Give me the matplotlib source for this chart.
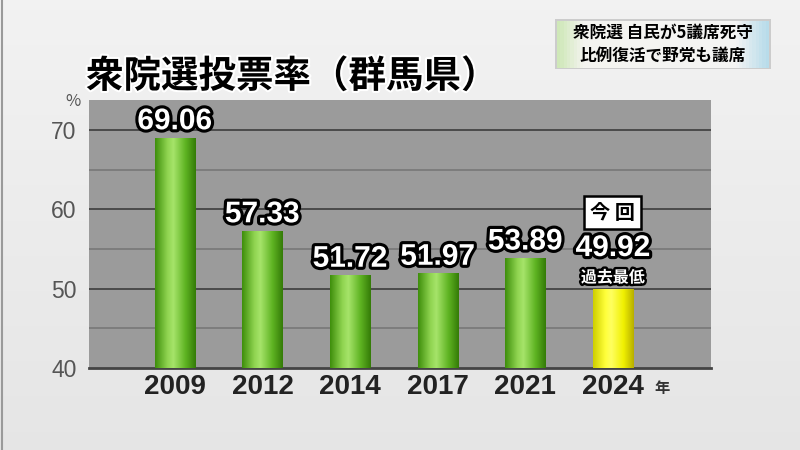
import numpy as np
import matplotlib
matplotlib.use('Agg')
import matplotlib.pyplot as plt
import matplotlib.patheffects as pe
from matplotlib.patches import Rectangle

plt.rcParams['font.family'] = ['Noto Sans CJK JP', 'DejaVu Sans']
num_font = ['Liberation Sans', 'Noto Sans CJK JP']

# Data
years = ['2009', '2012', '2014', '2017', '2021', '2024']
turnout = [69.06, 57.33, 51.72, 51.97, 53.89, 49.92]
value_labels = ['69.06', '57.33', '51.72', '51.97', '53.89', '49.92']
yticks = [40, 50, 60, 70]

title = '衆院選投票率（群馬県）'
caption = ['衆院選 自民が5議席死守', '比例復活で野党も議席']
latest_tag = '今 回'
latest_note = '過去最低'

fig = plt.figure(figsize=(8, 4.5), dpi=100)

# Background
bg = fig.add_axes([0, 0, 1, 1], zorder=-2)
grad = np.linspace(0.95, 0.90, 256).reshape(-1, 1)
bg.imshow(np.dstack([grad, grad, grad]), aspect='auto', extent=[0, 800, 450, 0])
bg.set_xlim(0, 800)
bg.set_ylim(450, 0)
bg.axis('off')
bg.plot([2, 2], [0, 450], color='#9a9a9a', lw=1.5)

# Main plot
ax = fig.add_axes([89 / 800, 1 - 368 / 450, 622 / 800, 268 / 450])
ax.set_facecolor('#9b9b9b')
x = np.arange(len(years))
bars = ax.bar(x, turnout, width=0.46, bottom=0, zorder=3)

def cylinder(colors_lr):
    pos = np.linspace(0, 1, 64)
    stops = np.array([c[0] for c in colors_lr])
    rgb = np.array([matplotlib.colors.to_rgb(c[1]) for c in colors_lr])
    img = np.stack([np.interp(pos, stops, rgb[:, i]) for i in range(3)], axis=-1)
    return img.reshape(1, -1, 3)

green = cylinder([(0, '#3f8f0c'), (0.3, '#8fd450'), (0.45, '#a6e46a'),
                  (0.75, '#5eb322'), (1, '#357c08')])
yellow = cylinder([(0, '#cfcf00'), (0.3, '#ffff3a'), (0.45, '#ffff60'),
                   (0.75, '#f0f000'), (1, '#b8b000')])

for i, b in enumerate(bars):
    b.set_facecolor('none')
    b.set_edgecolor('none')
    img = yellow if i == len(bars) - 1 else green
    im = ax.imshow(img, aspect='auto', zorder=3,
                   extent=[b.get_x(), b.get_x() + b.get_width(), 40, b.get_height()])
    im.set_clip_path(b)

ax.set_xlim(-0.98, 6.12)
ax.set_ylim(40, 73.8)
ax.set_aspect('auto')

for v in [45, 55, 65]:
    ax.axhline(v, color='#777777', lw=1.2, zorder=1)
for v in [50, 60, 70]:
    ax.axhline(v, color='#4a4a4a', lw=1.4, zorder=1)

for s in ['top', 'right', 'left']:
    ax.spines[s].set_visible(False)
ax.spines['bottom'].set_color('#444444')
ax.spines['bottom'].set_linewidth(2)

ax.set_yticks(yticks)
ax.set_yticklabels([str(t) for t in yticks], fontsize=16.5, color='#555555', family=num_font)
ax.set_xticks(x)
ax.set_xticklabels(years, fontsize=20, color='#222222', fontweight='bold', family=num_font)
ax.tick_params(axis='y', length=0, pad=9)
ax.tick_params(axis='x', length=0, pad=4)

outline = [pe.Stroke(linewidth=4.5, foreground='black'), pe.Normal()]

for i, (xi, v) in enumerate(zip(x, turnout)):
    if i == len(x) - 1:
        continue
    ax.annotate(value_labels[i], (xi, v), xytext=(0, 6), textcoords='offset points',
                ha='center', va='baseline', fontsize=21.5, fontweight='bold',
                family=num_font, color='white', path_effects=outline, zorder=5)

# Latest election labels
xl, vl = x[-1], turnout[-1]
ax.annotate(latest_note, (xl, vl), xytext=(0, 5), textcoords='offset points',
            ha='center', va='baseline', fontsize=11.5, fontweight='bold',
            color='white', path_effects=[pe.Stroke(linewidth=3.5, foreground='black'), pe.Normal()],
            zorder=5)
ax.annotate(value_labels[-1], (xl, vl), xytext=(0, 24), textcoords='offset points',
            ha='center', va='baseline', fontsize=21.5, fontweight='bold', family=num_font,
            color='white', path_effects=outline, zorder=5)
ax.annotate(latest_tag, (xl, vl), xytext=(0, 55), textcoords='offset points',
            ha='center', va='center', fontsize=14.5, fontweight='bold', color='black',
            bbox=dict(boxstyle='square,pad=0.3', fc='white', ec='black', lw=1.8),
            zorder=5)

# Overlay for title, caption and unit labels
ov = fig.add_axes([0, 0, 1, 1], zorder=5)
ov.set_xlim(0, 800)
ov.set_ylim(450, 0)
ov.axis('off')

ov.text(86, 76, title, fontsize=27, fontweight='bold', color='black', va='center',
        ha='left', path_effects=[pe.Stroke(linewidth=3, foreground='white'), pe.Normal()])
ov.text(73, 101, '%', fontsize=12, color='#555555', ha='center', va='center')
ov.text(662, 388, '年', fontsize=11, color='#333333', ha='center', va='center',
        fontweight='bold')

# Caption box
cap_img = cylinder([(0, '#cfe8b8'), (0.12, '#f4f4f0'), (0.85, '#f4f4f4'), (1, '#b8dcea')])
ov.add_patch(Rectangle((555, 19), 216, 50, fc='#cccccc', ec='none'))
ov.imshow(cap_img, aspect='auto', extent=[557, 769, 68, 21], zorder=2)
ov.set_xlim(0, 800)
ov.set_ylim(450, 0)
ov.text(663, 33, caption[0], fontsize=12, fontweight='bold', ha='center', va='center', zorder=3)
ov.text(663, 56, caption[1], fontsize=12, fontweight='bold', ha='center', va='center', zorder=3)

fig.savefig('out.png', dpi=100)
